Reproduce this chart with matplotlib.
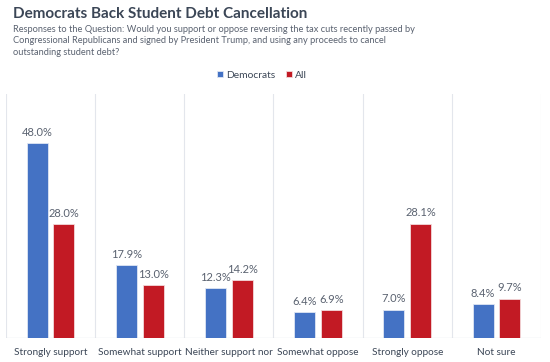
import matplotlib.pyplot as plt
import numpy as np

categories = ["Strongly support", "Somewhat support", "Neither support nor\noppose",
              "Somewhat oppose", "Strongly oppose", "Not sure"]
democrats = [48.0, 17.9, 12.3, 6.4, 7.0, 8.4]
all_resp = [28.0, 13.0, 14.2, 6.9, 28.1, 9.7]

blue = "#4472C4"
red = "#C21A24"
grid_col = "#E3E6EC"
text_col = "#3B4656"
label_col = "#5A6270"

plt.rcParams['font.family'] = ['Lato', 'DejaVu Sans']

fig = plt.figure(figsize=(5.5, 3.62), dpi=100)
ax = fig.add_axes([6 / 550, 24 / 362, 535 / 550, 244 / 362])

x = np.arange(len(categories))
w = 0.235
off = 0.15
b1 = ax.bar(x - off, democrats, w, color=blue, edgecolor="#dfe6f3", linewidth=0.6, label="Democrats")
b2 = ax.bar(x + off, all_resp, w, color=red, edgecolor="#f3d9da", linewidth=0.6, label="All")

for bars, vals in ((b1, democrats), (b2, all_resp)):
    for r, v in zip(bars, vals):
        ax.text(r.get_x() + r.get_width() / 2, v + 1.3, f"{v:.1f}%",
                ha="center", va="bottom", fontsize=8, color=label_col)

ax.set_xlim(-0.5, len(categories) - 0.5)
ax.set_ylim(0, 60)
for s in ax.spines.values():
    s.set_visible(False)
for i in range(len(categories) + 1):
    ax.axvline(i - 0.5, color=grid_col, linewidth=0.8, zorder=0)
ax.axhline(0, color="#D5DAE2", linewidth=0.9, zorder=0)
ax.set_yticks([])
ax.set_xticks(x)
ax.set_xticklabels(categories, fontsize=7.2, color=text_col, va="top", linespacing=1.7)
ax.tick_params(axis="x", length=0, pad=7)

fig.text(13 / 550, 1 - 14 / 362, "Democrats Back Student Debt Cancellation",
         fontsize=11, fontweight="bold", color=text_col, va="center", ha="left")
fig.text(13 / 550, 1 - 24.5 / 362,
         "Responses to the Question: Would you support or oppose reversing the tax cuts recently passed by\n"
         "Congressional Republicans and signed by President Trump, and using any proceeds to cancel\n"
         "outstanding student debt?",
         fontsize=6.7, color="#5A6270", va="top", ha="left", linespacing=1.4)

fig.legend(handles=[b1, b2], loc="center", bbox_to_anchor=(262 / 550, 1 - 75 / 362), ncol=2,
           frameon=False, fontsize=7.4, handlelength=0.6, handleheight=0.6, handletextpad=0.3,
           columnspacing=1.0, labelcolor=text_col)

fig.savefig("out.png", dpi=100)
